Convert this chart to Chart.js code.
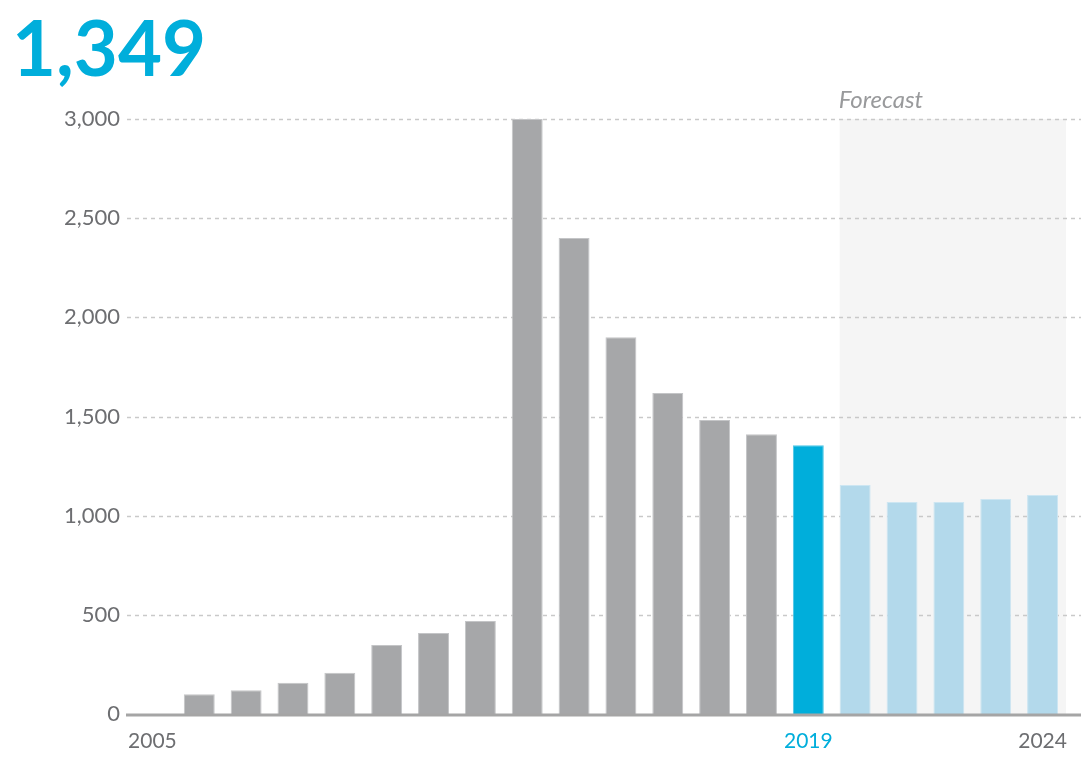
<!DOCTYPE html>
<html>
<head>
<meta charset="utf-8">
<script src="https://cdn.jsdelivr.net/npm/chart.js@4/dist/chart.umd.min.js"></script>
<style>
  html, body { margin: 0; padding: 0; background: #fff; }
  #wrap { width: 1089px; height: 772px; }
</style>
</head>
<body>
<div id="wrap"><canvas id="myChart" width="1089" height="772"></canvas></div>
<script>
// values
const years = ['2005', '2006', '2007', '2008', '2009', '2010', '2011', '2012', '2013', '2014',
  '2015', '2016', '2017', '2018', '2019', '2020', '2021', '2022', '2023', '2024'];
const values = [0, 99, 120, 158, 208, 348, 408, 469, 3000, 2400,
  1899, 1618, 1482, 1410, 1355, 1155, 1069, 1069, 1084, 1104];
const shownYears = ['2005', '2019', '2024'];
const currentYear = '2019';
const firstForecast = '2020';
const headline = '1,349';

const grey = '#a6a7a9';
const cyan = '#00aedb';
const lightBlue = '#b3d9eb';
const textGrey = '#6d6e71';

const curIdx = years.indexOf(currentYear);
const fcIdx = years.indexOf(firstForecast);

const barColors = years.map((y, i) => i < curIdx ? grey : (i === curIdx ? cyan : lightBlue));
const barBorders = years.map((y, i) => i < curIdx ? '#c4c5c7' : (i === curIdx ? '#4cc6e6' : '#cde6f2'));

//draws forecast band, dashed grid, base line and the Forecast label
const decor = {
  id: 'decor',
  beforeDatasetsDraw(chart) {
    const { ctx, chartArea, scales: { x, y } } = chart;
    const step = x.getPixelForValue(1) - x.getPixelForValue(0);
    const left = x.getPixelForValue(fcIdx) - step * 0.33;
    const right = x.getPixelForValue(years.length - 1) + step * 0.5;
    ctx.save();
    ctx.fillStyle = '#f5f5f5';
    ctx.fillRect(left, chartArea.top, right - left, chartArea.bottom - chartArea.top);

    ctx.strokeStyle = '#c9c9c9';
    ctx.lineWidth = 1.5;
    ctx.setLineDash([4, 4]);
    y.ticks.forEach(t => {
      if (t.value === 0) return;
      const py = Math.round(y.getPixelForValue(t.value)) + 0.5;
      ctx.beginPath();
      ctx.moveTo(chartArea.left - 2, py);
      ctx.lineTo(chart.width - 8, py);
      ctx.stroke();
    });
    ctx.setLineDash([]);

    ctx.fillStyle = '#999a9c';
    ctx.font = 'italic 24px Lato';
    ctx.textAlign = 'left';
    ctx.textBaseline = 'alphabetic';
    ctx.fillText('Forecast', left - 1, chartArea.top - 11);
    ctx.restore();
  },
  afterDatasetsDraw(chart) {
    const { ctx, chartArea, scales: { y } } = chart;
    const py = y.getPixelForValue(0) + 1;
    ctx.save();
    ctx.strokeStyle = '#a5a5a5';
    ctx.lineWidth = 3;
    ctx.beginPath();
    ctx.moveTo(chartArea.left - 3, py);
    ctx.lineTo(chart.width - 8, py);
    ctx.stroke();
    ctx.restore();
  }
};

const data = {
  labels: years,
  datasets: [{
    data: values,
    backgroundColor: barColors,
    borderColor: barBorders,
    borderWidth: 1,
    borderSkipped: 'bottom',
    categoryPercentage: 1,
    barPercentage: 0.66
  }]
};

const config = {
  type: 'bar',
  data,
  options: {
    responsive: false,
    animation: false,
    layout: { padding: { left: 12, right: 23, top: 0, bottom: 0 } },
    plugins: {
      legend: { display: false },
      tooltip: { enabled: false },
      title: {
        display: true,
        text: headline,
        align: 'start',
        color: cyan,
        font: { family: 'Lato', size: 76, weight: 'bold', lineHeight: 1.2 },
        padding: { top: 6, bottom: 21.8 }
      }
    },
    scales: {
      x: {
        grid: { display: false, drawTicks: false },
        border: { display: false },
        afterFit(scale) { scale.height = 58; },
        ticks: {
          autoSkip: false,
          maxRotation: 0,
          padding: 15,
          font: { family: 'Lato', size: 21 },
          color: ctx => ctx.index === curIdx ? cyan : textGrey,
          callback: function (v, i) {
            const lab = this.getLabelForValue(v);
            return shownYears.includes(lab) ? lab : '';
          }
        }
      },
      y: {
        min: 0,
        max: 3000,
        grid: { display: false, drawTicks: false },
        border: { display: false },
        afterFit(scale) { scale.width = 117; },
        ticks: {
          stepSize: 500,
          padding: 9,
          font: { family: 'Lato', size: 22 },
          color: textGrey,
          callback: v => v.toLocaleString('en-US')
        }
      }
    }
  },
  plugins: [decor]
};

const myChart = new Chart(document.querySelector('#myChart'), config);
</script>
</body>
</html>
